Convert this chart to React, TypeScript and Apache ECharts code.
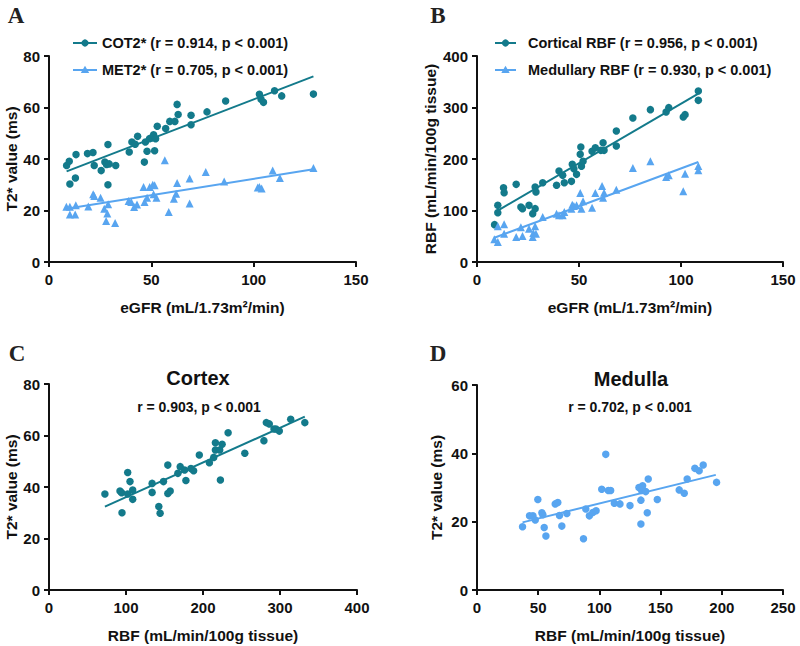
import React, { useEffect, useRef } from "react";
import * as echarts from "echarts";

// ---------- data ----------
const cot2A: number[][] = [
  [8.6, 37.5], [9.9, 39.1], [10.2, 30.3], [12.9, 32.6], [13.2, 41.7], [18.8, 42.1], [21.5, 42.5],
  [22.1, 37.5], [25.5, 35.5], [27.3, 38.8], [28.1, 37.9], [28.8, 45.6], [28.8, 30.0], [29.4, 38.1],
  [32.6, 37.5], [39.2, 42.7], [40.5, 46.6], [42.1, 45.7], [43.3, 48.8], [46.6, 38.8], [47.1, 46.6],
  [47.9, 43.0], [49.1, 47.9], [50.2, 48.2], [51.1, 49.4], [51.6, 43.2], [52.1, 47.9], [52.9, 52.7],
  [57.0, 51.8], [59.0, 54.6], [61.5, 54.6], [62.6, 61.2], [63.1, 57.3], [69.4, 57.0], [69.4, 53.3],
  [77.2, 58.3], [86.3, 62.5], [102.8, 65.1], [103.6, 63.2], [104.8, 62.0], [110.2, 66.5],
  [113.7, 64.5], [129.2, 65.2],
];
const met2A: number[][] = [
  [8.5, 21.5], [10.2, 21.5], [10.2, 18.4], [13.1, 22.0], [12.8, 18.4], [19.2, 21.6], [21.6, 26.3],
  [22.1, 25.6], [25.2, 25.0], [27.0, 20.7], [27.9, 15.9], [28.5, 18.8], [28.9, 22.4], [32.3, 15.1],
  [38.9, 23.7], [40.2, 23.3], [41.6, 21.4], [43.0, 22.3], [46.2, 29.1], [46.7, 23.3], [47.9, 25.0],
  [49.2, 29.1], [50.7, 30.0], [51.1, 26.3], [51.6, 29.8], [52.5, 25.0], [56.6, 39.5], [58.5, 19.4],
  [61.0, 24.6], [62.1, 26.5], [62.6, 30.7], [68.7, 32.4], [68.7, 22.7], [76.6, 35.0], [85.6, 31.3],
  [102.0, 28.9], [102.8, 29.1], [103.9, 28.5], [109.3, 35.5], [112.8, 32.6], [129.2, 36.5],
];
const cot2AFit: number[][] = [[8.6, 35.2], [129.2, 72.1]];
const met2AFit: number[][] = [[8.5, 20.7], [129.2, 36.0]];

const corticalB: number[][] = [
  [8.6, 72.5], [10.2, 110], [10.2, 95.8], [13.0, 144], [13.3, 134.6], [19.2, 150.8], [21.5, 106.8],
  [22.3, 103.6], [25.5, 110], [27.3, 93.9], [28.5, 145.6], [28.9, 136], [28.5, 103.6], [32.2, 154],
  [39.0, 148.9], [40.2, 176.7], [42.0, 168.3], [42.8, 154], [46.3, 156.6], [46.7, 189.6],
  [47.5, 181.2], [48.8, 170.2], [50.6, 209], [50.9, 223.3], [51.2, 185.8], [52.0, 195.5],
  [56.4, 214.9], [58.0, 222], [60.7, 216.8], [61.8, 231.7], [62.3, 216.8], [68.3, 254.4],
  [68.3, 225.2], [76.4, 279.6], [85.0, 295.8], [92.7, 291.3], [94.0, 299.7], [101.1, 281.6],
  [102.0, 286.1], [108.5, 332], [108.5, 313.9],
];
const medullaryB: number[][] = [
  [8.5, 44], [10.2, 69.3], [10.2, 38.8], [13.3, 73.1], [13.3, 55], [19.2, 48.5], [21.5, 67.3],
  [22.3, 50.5], [25.5, 64.7], [27.3, 48.5], [27.6, 56.3], [28.5, 69.3], [28.9, 55], [32.2, 87.4],
  [39.0, 93.9], [40.2, 90.6], [42.0, 90.6], [42.8, 97.1], [46.3, 103.6], [46.7, 111.3],
  [47.5, 108.7], [48.8, 110], [50.6, 134], [51.2, 103.6], [52.0, 117.8], [56.4, 105.5],
  [58.0, 134], [61.3, 147.6], [61.8, 124.9], [62.3, 134.6], [68.3, 140.5], [76.4, 182.5],
  [85.0, 195.5], [92.7, 165], [94.0, 168.3], [101.1, 137.2], [102.0, 171.5], [108.5, 186.4],
  [108.5, 178],
];
const corticalBFit: number[][] = [[8.9, 97], [108.5, 326.9]];
const medullaryBFit: number[][] = [[8.5, 47.2], [108.5, 194.2]];

const cortexC: number[][] = [
  [72.6, 37.3], [92.2, 38.4], [94.3, 37.8], [94.8, 30.0], [102.2, 45.6], [102.2, 37.3], [105.2, 42.1],
  [108.7, 38.8], [108.7, 35.2], [133.9, 41.4], [133.9, 37.9], [142.6, 32.4], [144.3, 29.8],
  [148.7, 42.1], [154.3, 48.5], [154.3, 37.5], [157.4, 38.4], [167.4, 45.3], [170.4, 47.9],
  [176.1, 46.6], [177.8, 42.5], [184.3, 47.2], [187.8, 46.3], [195.2, 52.4], [208.3, 49.4],
  [213.9, 51.5], [216.1, 57.2], [216.1, 54.4], [221.7, 54.4], [222.6, 42.7], [224.8, 56.6],
  [232.6, 61.1], [254.3, 53.1], [279.1, 58.0], [282.2, 65.0], [286.1, 64.5], [292.2, 62.5],
  [294.8, 62.5], [299.1, 61.7], [313.9, 66.3], [332.2, 65.0],
];
const cortexCFit: number[][] = [[72.6, 32.4], [332.2, 67.3]];

const medullaD: number[][] = [
  [37.2, 18.5], [42.9, 21.7], [45.7, 21.7], [47.6, 20.5], [49.7, 26.5], [53.0, 22.6], [53.8, 22.0],
  [54.9, 18.3], [56.3, 15.8], [63.9, 25.2], [66.0, 25.6], [67.4, 21.8], [69.3, 18.7], [73.4, 22.4],
  [87.0, 15.0], [88.9, 23.7], [91.8, 21.7], [94.6, 22.7], [97.3, 23.2], [101.9, 29.5], [105.2, 39.7],
  [107.3, 29.1], [109.2, 29.1], [112.2, 25.4], [116.8, 25.2], [125.0, 24.7], [132.3, 30.0],
  [134.5, 29.1], [133.9, 26.3], [133.9, 19.3], [135.3, 30.5], [137.8, 28.8], [139.1, 22.6],
  [139.9, 32.5], [147.3, 26.5], [165.2, 29.3], [169.3, 28.3], [171.7, 32.5], [178.0, 35.6],
  [181.5, 34.9], [184.8, 36.6], [195.7, 31.5],
];
const medullaDFit: number[][] = [[37.2, 19.8], [195.1, 33.7]];

const legendA = ["COT2* (r = 0.914, p < 0.001)", "MET2* (r = 0.705, p < 0.001)"];
const legendB = ["Cortical RBF (r = 0.956, p < 0.001)", "Medullary RBF (r = 0.930, p < 0.001)"];
const titleC = "Cortex";
const statC = "r = 0.903, p < 0.001";
const titleD = "Medulla";
const statD = "r = 0.702, p < 0.001";
const xNameEGFR = "eGFR (mL/1.73m²/min)";
const xNameRBF = "RBF (mL/min/100g tissue)";
const yNameT2 = "T2* value (ms)";
const yNameRBF = "RBF (mL/min/100g tissue)";

// ---------- styles ----------
const TEAL = "#137a8b";
const BLUE = "#58a5f0";
const FONT = '"Liberation Sans", Arial, sans-serif';
const SERIF = '"Liberation Serif", "Times New Roman", serif';

function xAxis(gridIndex: number, max: number, interval: number, name: string) {
  return {
    type: "value", gridIndex, min: 0, max, interval,
    name, nameLocation: "middle", nameGap: 37,
    nameTextStyle: { color: "#111", fontFamily: FONT, fontWeight: "bold", fontSize: 15.5 },
    axisLine: { show: true, onZero: false, lineStyle: { color: "#111", width: 2 } },
    axisTick: { show: true, length: 5, lineStyle: { color: "#111", width: 2 } },
    axisLabel: { color: "#111", fontFamily: FONT, fontWeight: "bold", fontSize: 15, margin: 10 },
    splitLine: { show: false },
  };
}
function yAxis(gridIndex: number, max: number, interval: number, name: string, gap: number) {
  return {
    type: "value", gridIndex, min: 0, max, interval,
    name, nameLocation: "middle", nameGap: gap, nameRotate: 90,
    nameTextStyle: { color: "#111", fontFamily: FONT, fontWeight: "bold", fontSize: 15.5 },
    axisLine: { show: true, onZero: false, lineStyle: { color: "#111", width: 2 } },
    axisTick: { show: true, length: 5, lineStyle: { color: "#111", width: 2 } },
    axisLabel: { color: "#111", fontFamily: FONT, fontWeight: "bold", fontSize: 15, margin: 9 },
    splitLine: { show: false },
  };
}
function scatter(idx: number, data: number[][], color: string, symbol: string) {
  return {
    type: "scatter", xAxisIndex: idx, yAxisIndex: idx, data, symbol,
    symbolSize: symbol === "triangle" ? 8 : 7.5,
    itemStyle: { color, opacity: 1 }, z: 3,
  };
}
function fit(idx: number, data: number[][], color: string) {
  return {
    type: "line", xAxisIndex: idx, yAxisIndex: idx, data, showSymbol: false, symbol: "none",
    lineStyle: { color, width: 2 }, z: 2,
  };
}
function legendRow(x: number, y: number, lineW: number, color: string, symbol: string, label: string, textX: number) {
  const marker =
    symbol === "circle"
      ? { type: "circle", shape: { cx: x + lineW / 2, cy: y, r: 3.6 }, style: { fill: color } }
      : {
          type: "polygon",
          shape: { points: [[x + lineW / 2, y - 4.2], [x + lineW / 2 - 4.2, y + 3], [x + lineW / 2 + 4.2, y + 3]] },
          style: { fill: color },
        };
  return [
    { type: "line", shape: { x1: x, y1: y, x2: x + lineW, y2: y }, style: { stroke: color, lineWidth: 2 } },
    marker,
    {
      type: "text", x: textX, y,
      style: { text: label, fill: "#111", font: `bold 14.5px ${FONT}`, textVerticalAlign: "middle", verticalAlign: "middle" },
    },
  ];
}
function centerText(x: number, y: number, text: string, size: number) {
  return {
    type: "text", x, y,
    style: { text, fill: "#111", font: `bold ${size}px ${FONT}`, align: "center", verticalAlign: "middle" },
  };
}
function letter(x: number, y: number, text: string) {
  return {
    type: "text", x, y,
    style: { text, fill: "#222", font: `bold 23px ${SERIF}`, align: "center", verticalAlign: "middle" },
  };
}

export default function App() {
  const ref = useRef<HTMLDivElement>(null);
  useEffect(() => {
    if (!ref.current) return;
    const chart = echarts.init(ref.current, undefined, { renderer: "svg" });
    chart.setOption({
      animation: false,
      backgroundColor: "#fff",
      grid: [
        { left: 49, top: 56, width: 307, height: 206 },
        { left: 477, top: 56, width: 306, height: 206 },
        { left: 49, top: 384, width: 308, height: 206 },
        { left: 477, top: 385, width: 306, height: 205 },
      ],
      xAxis: [
        xAxis(0, 150, 50, xNameEGFR),
        xAxis(1, 150, 50, xNameEGFR),
        xAxis(2, 400, 100, xNameRBF),
        xAxis(3, 250, 50, xNameRBF),
      ],
      yAxis: [
        yAxis(0, 80, 20, yNameT2, 29),
        yAxis(1, 400, 100, yNameRBF, 39),
        yAxis(2, 80, 20, yNameT2, 29),
        yAxis(3, 60, 20, yNameT2, 33),
      ],
      series: [
        fit(0, cot2AFit, TEAL),
        fit(0, met2AFit, BLUE),
        scatter(0, cot2A, TEAL, "circle"),
        scatter(0, met2A, BLUE, "triangle"),
        fit(1, corticalBFit, TEAL),
        fit(1, medullaryBFit, BLUE),
        scatter(1, corticalB, TEAL, "circle"),
        scatter(1, medullaryB, BLUE, "triangle"),
        fit(2, cortexCFit, TEAL),
        scatter(2, cortexC, TEAL, "circle"),
        fit(3, medullaDFit, BLUE),
        scatter(3, medullaD, BLUE, "circle"),
      ],
      graphic: [
        letter(16, 15, "A"),
        letter(438, 15, "B"),
        letter(17, 353, "C"),
        letter(438, 353, "D"),
        ...legendRow(73, 43, 24, TEAL, "circle", legendA[0], 102),
        ...legendRow(73, 70, 24, BLUE, "triangle", legendA[1], 102),
        ...legendRow(495, 43, 21, TEAL, "circle", legendB[0], 528),
        ...legendRow(495, 70, 21, BLUE, "triangle", legendB[1], 528),
        centerText(198, 378, titleC, 20),
        centerText(199, 407, statC, 14),
        centerText(631, 379, titleD, 20),
        centerText(630, 407, statD, 14),
      ],
    });
    return () => chart.dispose();
  }, []);
  return (
    <div
      ref={ref}
      style={{ position: "absolute", left: 0, top: 0, width: 800, height: 646, background: "#fff" }}
    />
  );
}
